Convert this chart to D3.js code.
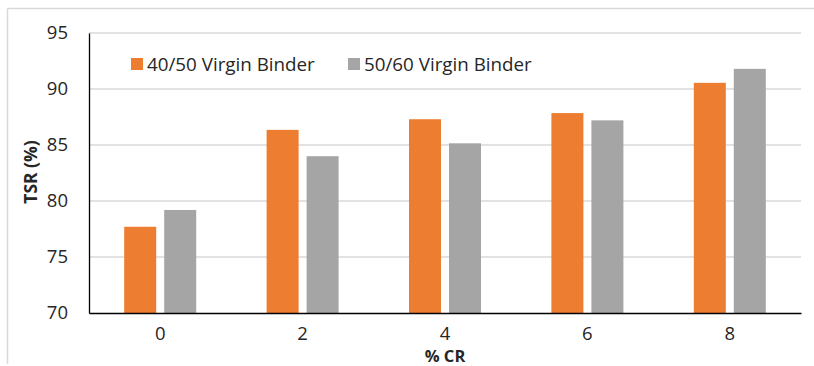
<!DOCTYPE html>
<html>
<head>
<meta charset="utf-8">
<script src="https://cdn.jsdelivr.net/npm/d3@7"></script>
<style>
  html, body { margin: 0; padding: 0; background: #fff; }
  svg { display: block; }
  text { font-family: "Open Sans", sans-serif; fill: #262626; }
</style>
</head>
<body>
<svg id="chart" width="814" height="366"></svg>
<script>
// Total solar reflectance by crumb-rubber content
const categories = ["0", "2", "4", "6", "8"];
const seriesNames = ["40/50 Virgin Binder", "50/60 Virgin Binder"];
const binder4050 = [77.7, 86.35, 87.3, 87.85, 90.55];
const binder5060 = [79.2, 84.0, 85.15, 87.2, 91.8];
const yTicks = [70, 75, 80, 85, 90, 95];
const colors = ["#ED7D31", "#A5A5A5"];

const svg = d3.select("#chart");

// chart frame
svg.append("line").attr("x1", 7.5).attr("x2", 814).attr("y1", 8.5).attr("y2", 8.5)
  .attr("stroke", "#d9d9d9").attr("stroke-width", 1.5);
svg.append("line").attr("x1", 7.5).attr("x2", 7.5).attr("y1", 8.5).attr("y2", 364)
  .attr("stroke", "#d9d9d9").attr("stroke-width", 1.5);

const plot = { left: 89, right: 801, top: 33, bottom: 313 };

const x = d3.scaleBand().domain(categories).range([plot.left, plot.right]).padding(0);
const groupW = 72;
const xSub = d3.scaleBand().domain(seriesNames).range([0, groupW]).paddingInner(0.2).paddingOuter(0);
const y = d3.scaleLinear().domain([70, 95]).range([plot.bottom, plot.top]);

// gridlines
svg.append("g").selectAll("line").data(yTicks.filter(t => t > 70)).join("line")
  .attr("x1", plot.left).attr("x2", plot.right)
  .attr("y1", d => y(d)).attr("y2", d => y(d))
  .attr("stroke", "#d9d9d9").attr("stroke-width", 1.5);

// bars
const rows = categories.map((c, i) => ({ cat: c, vals: [binder4050[i], binder5060[i]] }));
const groups = svg.append("g").selectAll("g").data(rows).join("g")
  .attr("transform", d => `translate(${x(d.cat) + x.bandwidth() / 2 - groupW / 2},0)`);
groups.selectAll("rect").data(d => d.vals.map((v, k) => ({ v, k }))).join("rect")
  .attr("x", d => xSub(seriesNames[d.k]))
  .attr("width", xSub.bandwidth())
  .attr("y", d => y(d.v))
  .attr("height", d => y(70) - y(d.v))
  .attr("fill", d => colors[d.k]);

// axes
const yAxis = d3.axisLeft(y).tickValues(yTicks).tickSize(0).tickPadding(21);
const gy = svg.append("g").attr("transform", `translate(${plot.left},0)`).call(yAxis);
gy.select(".domain").attr("stroke", "#000").attr("stroke-width", 1.3);
gy.selectAll(".tick text").attr("font-size", 18.5).attr("fill", "#262626")
  .style("font-family", "'Open Sans', sans-serif");

const xAxis = d3.axisBottom(x).tickSize(0).tickPadding(14);
const gx = svg.append("g").attr("transform", `translate(0,${plot.bottom})`).call(xAxis);
gx.select(".domain").attr("stroke", "#000").attr("stroke-width", 1.3);
gx.selectAll(".tick text").attr("font-size", 18.5).attr("fill", "#262626")
  .style("font-family", "'Open Sans', sans-serif");

// axis titles
svg.append("text").attr("x", 445).attr("y", 362).attr("text-anchor", "middle")
  .attr("font-size", 16.5).attr("font-weight", "bold").text("% CR");
svg.append("text").attr("transform", "translate(37,172) rotate(-90)")
  .attr("text-anchor", "middle").attr("font-size", 17.5).attr("font-weight", "bold").text("TSR (%)");

// legend
const legendX = [131, 348];
const lg = svg.append("g").selectAll("g").data(seriesNames).join("g")
  .attr("transform", (d, i) => `translate(${legendX[i]},58)`);
lg.append("rect").attr("width", 12).attr("height", 12).attr("fill", (d, i) => colors[i]);
lg.append("text").attr("x", 16).attr("y", 13).attr("font-size", 18.8).text(d => d);
</script>
</body>
</html>
